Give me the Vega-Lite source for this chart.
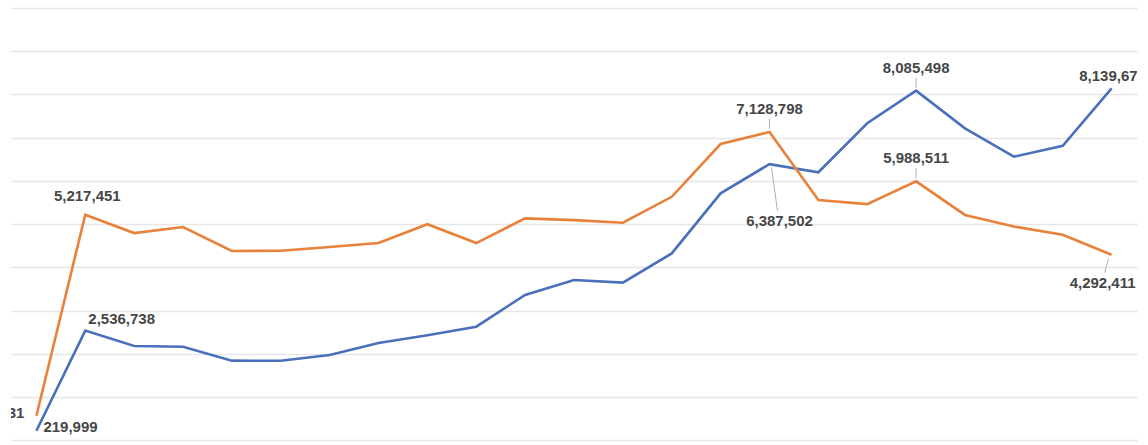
{
  "$schema": "https://vega.github.io/schema/vega-lite/v6.json",
  "width": 1126,
  "height": 432.4,
  "autosize": {"type": "none"},
  "padding": {"left": 11, "top": 7.9, "right": 11, "bottom": 4.7},
  "background": "white",
  "config": {"view": {"stroke": null}},
  "data": {
    "values": [
      {"i": 1, "series": "A", "value": 219999},
      {"i": 2, "series": "A", "value": 2536738},
      {"i": 3, "series": "A", "value": 2181340},
      {"i": 4, "series": "A", "value": 2164870},
      {"i": 5, "series": "A", "value": 1842150},
      {"i": 6, "series": "A", "value": 1838620},
      {"i": 7, "series": "A", "value": 1971480},
      {"i": 8, "series": "A", "value": 2248910},
      {"i": 9, "series": "A", "value": 2431260},
      {"i": 10, "series": "A", "value": 2627540},
      {"i": 11, "series": "A", "value": 3362180},
      {"i": 12, "series": "A", "value": 3708630},
      {"i": 13, "series": "A", "value": 3645920},
      {"i": 14, "series": "A", "value": 4322710},
      {"i": 15, "series": "A", "value": 5711480},
      {"i": 16, "series": "A", "value": 6387502},
      {"i": 17, "series": "A", "value": 6198340},
      {"i": 18, "series": "A", "value": 7332610},
      {"i": 19, "series": "A", "value": 8085498},
      {"i": 20, "series": "A", "value": 7214950},
      {"i": 21, "series": "A", "value": 6558270},
      {"i": 22, "series": "A", "value": 6812430},
      {"i": 23, "series": "A", "value": 8139675},
      {"i": 1, "series": "B", "value": 567331},
      {"i": 2, "series": "B", "value": 5217451},
      {"i": 3, "series": "B", "value": 4792360},
      {"i": 4, "series": "B", "value": 4931840},
      {"i": 5, "series": "B", "value": 4379210},
      {"i": 6, "series": "B", "value": 4382650},
      {"i": 7, "series": "B", "value": 4471930},
      {"i": 8, "series": "B", "value": 4563280},
      {"i": 9, "series": "B", "value": 4998410},
      {"i": 10, "series": "B", "value": 4561720},
      {"i": 11, "series": "B", "value": 5132870},
      {"i": 12, "series": "B", "value": 5091340},
      {"i": 13, "series": "B", "value": 5031560},
      {"i": 14, "series": "B", "value": 5631280},
      {"i": 15, "series": "B", "value": 6852410},
      {"i": 16, "series": "B", "value": 7128798},
      {"i": 17, "series": "B", "value": 5556190},
      {"i": 18, "series": "B", "value": 5462830},
      {"i": 19, "series": "B", "value": 5988511},
      {"i": 20, "series": "B", "value": 5211740},
      {"i": 21, "series": "B", "value": 4943260},
      {"i": 22, "series": "B", "value": 4752180},
      {"i": 23, "series": "B", "value": 4292411}
    ]
  },
  "encoding": {
    "x": {"field": "i", "type": "ordinal", "scale": {"type": "point", "padding": 0.52}, "axis": null},
    "y": {
      "field": "value",
      "type": "quantitative",
      "scale": {"domain": [0, 10000000], "nice": false, "zero": true},
      "axis": {
        "values": [0, 1000000, 2000000, 3000000, 4000000, 5000000, 6000000, 7000000, 8000000, 9000000, 10000000],
        "grid": true,
        "gridColor": "#e6e6e6",
        "gridWidth": 1.5,
        "labels": false,
        "ticks": false,
        "domain": false,
        "title": null
      }
    }
  },
  "layer": [
    {
      "mark": {"type": "line", "strokeWidth": 2.6},
      "encoding": {
        "color": {"field": "series", "type": "nominal", "scale": {"domain": ["A", "B"], "range": ["#4a70bc", "#e8813a"]}, "legend": null}
      }
    },
    {
      "transform": [{"filter": "(datum.series == 'B' && (datum.i == 16 || datum.i == 19)) || (datum.series == 'A' && datum.i == 19)"}],
      "mark": {"type": "rule", "color": "#b0b0b0", "strokeWidth": 1, "yOffset": -13, "y2Offset": -3},
      "encoding": {"y2": {"field": "value"}}
    },
    {
      "transform": [{"filter": "datum.series == 'A' && datum.i == 16"}],
      "mark": {"type": "rule", "color": "#b0b0b0", "strokeWidth": 1, "xOffset": 2, "x2Offset": 8, "yOffset": 3, "y2Offset": 47},
      "encoding": {"x2": {"field": "i"}, "y2": {"field": "value"}}
    },
    {
      "transform": [{"filter": "datum.series == 'B' && datum.i == 23"}],
      "mark": {"type": "rule", "color": "#b0b0b0", "strokeWidth": 1, "xOffset": -3, "x2Offset": -7, "yOffset": 4, "y2Offset": 18},
      "encoding": {"x2": {"field": "i"}, "y2": {"field": "value"}}
    },
    {
      "transform": [{"filter": "(datum.series == 'B' && (datum.i == 16 || datum.i == 19)) || (datum.series == 'A' && datum.i == 19)"}],
      "mark": {"type": "text", "font": "Liberation Sans", "fontSize": 15, "fontWeight": "bold", "color": "#464646", "baseline": "middle", "align": "center", "dy": -23, "clip": true},
      "encoding": {"text": {"field": "value", "type": "quantitative", "format": ",d"}}
    },
    {
      "transform": [{"filter": "datum.series == 'B' && datum.i == 2"}],
      "mark": {"type": "text", "font": "Liberation Sans", "fontSize": 15, "fontWeight": "bold", "color": "#464646", "baseline": "middle", "align": "center", "dx": 2, "dy": -19, "clip": true},
      "encoding": {"text": {"field": "value", "type": "quantitative", "format": ",d"}}
    },
    {
      "transform": [{"filter": "datum.series == 'A' && datum.i == 2"}],
      "mark": {"type": "text", "font": "Liberation Sans", "fontSize": 15, "fontWeight": "bold", "color": "#464646", "baseline": "middle", "align": "left", "dx": 3, "dy": -12, "clip": true},
      "encoding": {"text": {"field": "value", "type": "quantitative", "format": ",d"}}
    },
    {
      "transform": [{"filter": "datum.series == 'A' && datum.i == 1"}],
      "mark": {"type": "text", "font": "Liberation Sans", "fontSize": 15, "fontWeight": "bold", "color": "#464646", "baseline": "middle", "align": "left", "dx": 7, "dy": -4, "clip": true},
      "encoding": {"text": {"field": "value", "type": "quantitative", "format": ",d"}}
    },
    {
      "transform": [{"filter": "datum.series == 'B' && datum.i == 1"}],
      "mark": {"type": "text", "font": "Liberation Sans", "fontSize": 15, "fontWeight": "bold", "color": "#464646", "baseline": "middle", "align": "right", "dx": -12, "dy": -3, "clip": true},
      "encoding": {"text": {"field": "value", "type": "quantitative", "format": ",d"}}
    },
    {
      "transform": [{"filter": "datum.series == 'A' && datum.i == 16"}],
      "mark": {"type": "text", "font": "Liberation Sans", "fontSize": 15, "fontWeight": "bold", "color": "#464646", "baseline": "middle", "align": "center", "dx": 10, "dy": 57, "clip": true},
      "encoding": {"text": {"field": "value", "type": "quantitative", "format": ",d"}}
    },
    {
      "transform": [{"filter": "datum.series == 'A' && datum.i == 23"}],
      "mark": {"type": "text", "font": "Liberation Sans", "fontSize": 15, "fontWeight": "bold", "color": "#464646", "baseline": "middle", "align": "center", "dx": 1, "dy": -12, "clip": true},
      "encoding": {"text": {"field": "value", "type": "quantitative", "format": ",d"}}
    },
    {
      "transform": [{"filter": "datum.series == 'B' && datum.i == 23"}],
      "mark": {"type": "text", "font": "Liberation Sans", "fontSize": 15, "fontWeight": "bold", "color": "#464646", "baseline": "middle", "align": "center", "dx": -9, "dy": 28, "clip": true},
      "encoding": {"text": {"field": "value", "type": "quantitative", "format": ",d"}}
    }
  ]
}
